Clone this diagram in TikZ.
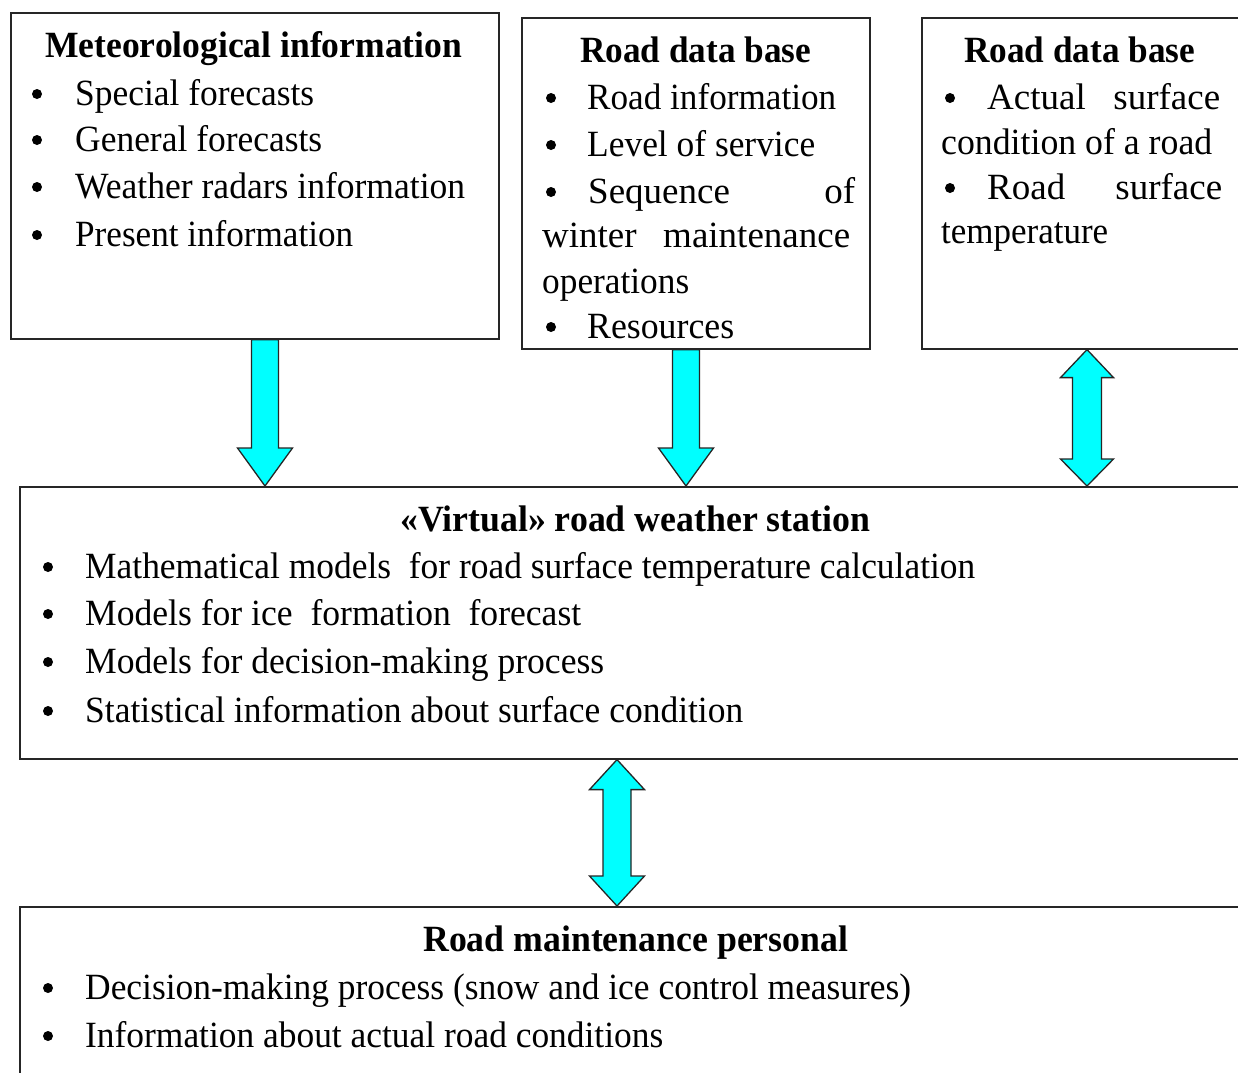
\documentclass[tikz,border=0pt]{standalone}
\usepackage{fontspec}
\setmainfont{Liberation Serif}
\usepackage{graphicx}
\usetikzlibrary{calc}
\definecolor{aqua}{RGB}{0,255,255}
\newcommand\fw[2]{\resizebox{#1pt}{\height}{#2}}
\newcommand\js[2]{\makebox[#1pt][s]{#2}}
\tikzset{
  box/.style={draw=black!85, line width=1.6pt, fill=white, rectangle, inner sep=0pt, anchor=north west},
  txt/.style={inner sep=0pt, anchor=base west, font=\fontsize{37}{40}\selectfont},
  ttl/.style={txt, font=\fontsize{37}{40}\selectfont\bfseries},
  bul/.style={circle, fill=black, inner sep=0pt, minimum size=10pt},
  barrow/.style={fill=aqua, draw=black!85, line width=1.3pt, line join=miter},
}
\begin{document}
\begin{tikzpicture}[x=1pt,y=-1pt]
\useasboundingbox (0,0) rectangle (1238,1072);
\clip (0,0) rectangle (1238,1072);
\fill[white] (0,0) rectangle (1238,1072);
% boxes
\node[box, minimum width=488pt, minimum height=326pt] (meteo) at (10,12) {};
\node[box, minimum width=348pt, minimum height=331pt] (road1) at (521,17) {};
\node[box, minimum width=360pt, minimum height=331pt] (road2) at (921,17) {};
\node[box, minimum width=1260pt, minimum height=272pt] (virt) at (19,486) {};
\node[box, minimum width=1260pt, minimum height=200pt] (pers) at (19,906) {};
% box 1 text
\node[ttl] (m0) at (45,57) {\fw{417}{Meteorological information}};
\node[bul] (mb1) at (37,94) {};
\node[txt] (m1) at (75,105) {\fw{239}{Special forecasts}};
\node[bul] (mb2) at (37,140) {};
\node[txt] (m2) at (75,151) {\fw{247}{General forecasts}};
\node[bul] (mb3) at (37,187) {};
\node[txt] (m3) at (75,198) {\fw{390}{Weather radars information}};
\node[bul] (mb4) at (37,235) {};
\node[txt] (m4) at (75,246) {\fw{278}{Present information}};
% box 2 text
\node[ttl] (r0) at (580,62) {\fw{231}{Road data base}};
\node[bul] (rb1) at (551,98) {};
\node[txt] (r1) at (587,109) {\fw{249}{Road information}};
\node[bul] (rb2) at (551,145) {};
\node[txt] (r2) at (587,156) {\fw{228}{Level of service}};
\node[bul] (rb3) at (551,192) {};
\node[txt] (r3) at (588,203) {\js{267}{Sequence of}};
\node[txt] (r4) at (542,247) {\js{308}{winter maintenance}};
\node[txt] (r5) at (542,293) {\fw{147}{operations}};
\node[bul] (rb6) at (551,327) {};
\node[txt] (r6) at (587,338) {\fw{147}{Resources}};
% box 3 text
\node[ttl] (s0) at (964,62) {\fw{231}{Road data base}};
\node[bul] (sb1) at (950,98) {};
\node[txt] (s1) at (987,109) {\js{233}{Actual surface}};
\node[txt] (s2) at (941,154) {\fw{271}{condition of a road}};
\node[bul] (sb3) at (950,188) {};
\node[txt] (s3) at (987,199) {\js{235}{Road surface}};
\node[txt] (s4) at (941,243) {\fw{167}{temperature}};
% virtual station text
\node[ttl] (v0) at (400,531) {\fw{470}{«Virtual» road weather station}};
\node[bul] (vb1) at (48,567) {};
\node[txt] (v1) at (85,578) {\fw{890}{Mathematical models\ \ for road surface temperature calculation}};
\node[bul] (vb2) at (48,614) {};
\node[txt] (v2) at (85,625) {\fw{496}{Models for ice\ \ formation\ \ forecast}};
\node[bul] (vb3) at (48,662) {};
\node[txt] (v3) at (85,673) {\fw{519}{Models for decision-making process}};
\node[bul] (vb4) at (48,711) {};
\node[txt] (v4) at (85,722) {\fw{658}{Statistical information about surface condition}};
% personal text
\node[ttl] (p0) at (423,951) {\fw{425}{Road maintenance personal}};
\node[bul] (pb1) at (48,988) {};
\node[txt] (p1) at (85,999) {\fw{826}{Decision-making process (snow and ice control measures)}};
\node[bul] (pb2) at (48,1036) {};
\node[txt] (p2) at (85,1047) {\fw{578}{Information about actual road conditions}};
% arrows
% down arrow 1
\draw[barrow] ($(265,0 |- meteo.south)+(-13.5,0)$) -- ($(265,0 |- virt.north)+(-13.5,-38)$) -- ($(265,0 |- virt.north)+(-27.5,-38)$) -- (265,0 |- virt.north) -- ($(265,0 |- virt.north)+(27.5,-38)$) -- ($(265,0 |- virt.north)+(13.5,-38)$) -- ($(265,0 |- meteo.south)+(13.5,0)$) -- cycle;
% down arrow 2
\draw[barrow] ($(686,0 |- road1.south)+(-13.5,0)$) -- ($(686,0 |- virt.north)+(-13.5,-38)$) -- ($(686,0 |- virt.north)+(-27.5,-38)$) -- (686,0 |- virt.north) -- ($(686,0 |- virt.north)+(27.5,-38)$) -- ($(686,0 |- virt.north)+(13.5,-38)$) -- ($(686,0 |- road1.south)+(13.5,0)$) -- cycle;
% double arrow 3
\draw[barrow] (1087,0 |- road2.south) -- ($(1087,0 |- road2.south)+(26.5,28)$) -- ($(1087,0 |- road2.south)+(14.5,28)$) -- ($(1087,0 |- virt.north)+(14.5,-27)$) -- ($(1087,0 |- virt.north)+(26.5,-27)$) -- (1087,0 |- virt.north) -- ($(1087,0 |- virt.north)+(-26.5,-27)$) -- ($(1087,0 |- virt.north)+(-14.5,-27)$) -- ($(1087,0 |- road2.south)+(-14.5,28)$) -- ($(1087,0 |- road2.south)+(-26.5,28)$) -- cycle;
% double arrow 4
\draw[barrow] (617,0 |- virt.south) -- ($(617,0 |- virt.south)+(27.5,30)$) -- ($(617,0 |- virt.south)+(14,30)$) -- ($(617,0 |- pers.north)+(14,-30)$) -- ($(617,0 |- pers.north)+(27.5,-30)$) -- (617,0 |- pers.north) -- ($(617,0 |- pers.north)+(-27.5,-30)$) -- ($(617,0 |- pers.north)+(-14,-30)$) -- ($(617,0 |- virt.south)+(-14,30)$) -- ($(617,0 |- virt.south)+(-27.5,30)$) -- cycle;
\end{tikzpicture}
\end{document}
